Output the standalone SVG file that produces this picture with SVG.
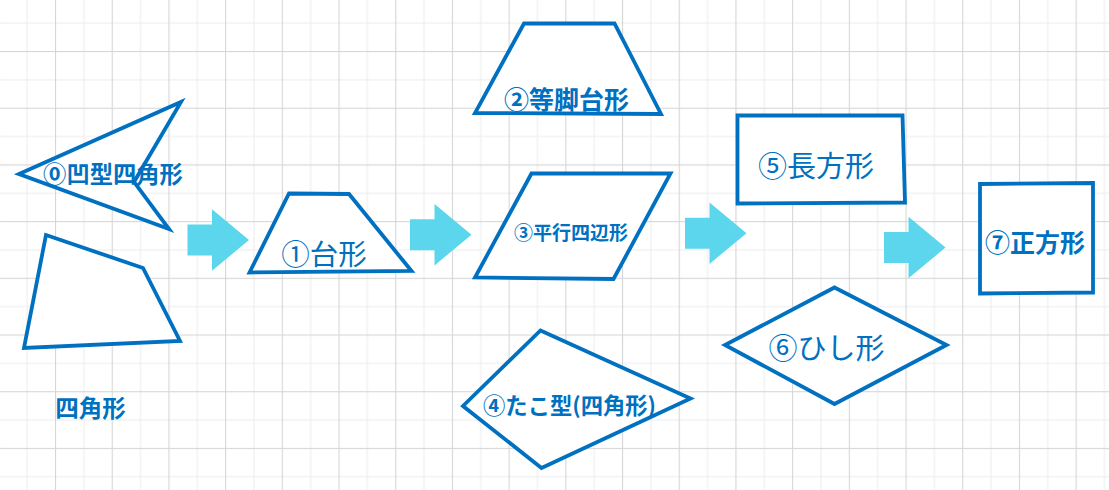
<svg xmlns="http://www.w3.org/2000/svg" xmlns:xlink="http://www.w3.org/1999/xlink" width="1109" height="490" viewBox="0 0 1109 490">
<defs>
<pattern id="grid" patternUnits="userSpaceOnUse" x="-1.7" y="-5.7" width="56.7" height="56.7">
<rect x="28.35" y="0" width="1" height="56.7" fill="#ececec"/>
<rect x="0" y="28.35" width="56.7" height="1" fill="#ececec"/>
<rect x="0" y="0" width="1.1" height="56.7" fill="#d6d6d6"/>
<rect x="0" y="0" width="56.7" height="1.1" fill="#d6d6d6"/>
</pattern>
<path id="blockArrow" d="M0,-15.5 H24.5 V-30.7 L61.5,0 L24.5,30.7 V15.5 H0 Z"/>
</defs>
<style>
.shape{fill:#ffffff;stroke:#0070c0;stroke-width:3.8;stroke-linejoin:miter}
.lbl{font-family:"Noto Sans CJK JP","Noto Sans CJK SC",sans-serif;fill:#0070c0;text-anchor:middle}
.b{font-weight:bold}
.arrow{fill:#5bd6ed}
</style>
<rect width="1109" height="490" fill="#ffffff"/>
<rect width="1109" height="490" fill="url(#grid)"/>

<g id="connectors">
<use xlink:href="#blockArrow" class="arrow" x="187.5" y="240"/>
<use xlink:href="#blockArrow" class="arrow" x="410" y="234.7"/>
<use xlink:href="#blockArrow" class="arrow" x="685" y="233.2"/>
<use xlink:href="#blockArrow" class="arrow" x="884" y="247.5"/>
</g>

<g id="node0-concave">
<polygon class="shape" points="19,174 181,102 134,182 169,229"/>
<text class="lbl b" x="113" y="183.3" font-size="23.3">⓪凹型四角形</text>
</g>

<g id="node-quad">
<polygon class="shape" points="46,235 143,268 180,341 24,348"/>
<text class="lbl b" x="90.5" y="416.5" font-size="23.5">四角形</text>
</g>

<g id="node1-trapezoid">
<polygon class="shape" points="289,193.5 349,194 411.5,271 249.5,272.5"/>
<text class="lbl" x="324" y="265" font-size="28.5">①台形</text>
</g>

<g id="node2-isosceles">
<polygon class="shape" points="524,23.5 614.5,23.5 661,114 475,113"/>
<text class="lbl b" x="566.5" y="109" font-size="25">②等脚台形</text>
</g>

<g id="node3-parallelogram">
<polygon class="shape" points="531.5,173.5 670.5,173.5 613.5,279 475,277.5"/>
<text class="lbl b" x="571" y="240" font-size="19">③平行四辺形</text>
</g>

<g id="node4-kite">
<polygon class="shape" points="540.5,330.5 690.5,398.5 541.5,468 463,406"/>
<text class="lbl b" x="569.5" y="414" font-size="22.3">④たこ型(四角形)</text>
</g>

<g id="node5-rectangle">
<polygon class="shape" points="737.5,115.5 902.5,115.5 905,202.5 737.5,203.5"/>
<text class="lbl" x="816" y="177" font-size="29">⑤長方形</text>
</g>

<g id="node6-rhombus">
<polygon class="shape" points="834.5,287.5 946.5,345 834.5,404 725,345"/>
<text class="lbl" x="826.5" y="358.5" font-size="29">⑥ひし形</text>
</g>

<g id="node7-square">
<polygon class="shape" points="980,184 1093,183 1093,292.5 980,293.5"/>
<text class="lbl b" x="1035" y="252" font-size="25">⑦正方形</text>
</g>
</svg>
